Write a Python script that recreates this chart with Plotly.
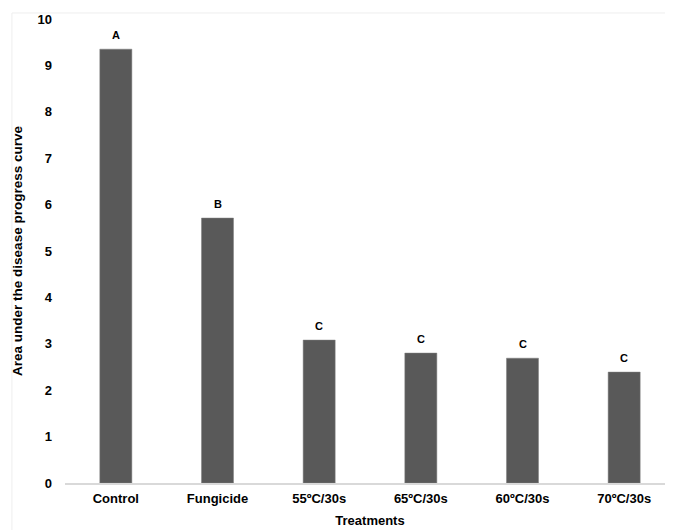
import plotly.graph_objects as go

categories = ["Control", "Fungicide", "55ºC/30s", "65ºC/30s", "60ºC/30s", "70ºC/30s"]
values = [9.35, 5.71, 3.08, 2.80, 2.69, 2.39]
letters = ["A", "B", "C", "C", "C", "C"]

FONT = "Liberation Sans"

fig = go.Figure(go.Bar(
    x=categories, y=values,
    marker=dict(color="#595959", line=dict(color="#7f7f7f", width=0.5)),
    width=0.315,
))

for c, v, l in zip(categories, values, letters):
    fig.add_annotation(x=c, y=v, text=f"<b>{l}</b>", showarrow=False,
                       yanchor="bottom", yshift=6,
                       font=dict(family=FONT, size=11, color="#000000"))

fig.update_layout(
    width=673, height=530,
    margin=dict(l=57, r=6, t=11, b=55, autoexpand=False),
    paper_bgcolor="white", plot_bgcolor="white",
    showlegend=False,
    font=dict(family=FONT, size=13, color="#000000"),
    xaxis=dict(
        automargin=False,
        showline=True, linecolor="#d9d9d9", linewidth=1.5, ticks="",
        tickfont=dict(family=FONT, size=13, weight="bold"),
        ticklabelstandoff=3,
        title=dict(text="<b>Treatments</b>", standoff=11,
                   font=dict(family=FONT, size=13)),
    ),
    yaxis=dict(
        automargin=False,
        range=[0, 10], dtick=1, showgrid=False, zeroline=False, showline=False,
        tickfont=dict(family=FONT, size=13, weight="bold"),
        ticklabelstandoff=12,
        title=dict(text="<b>Area under the disease progress curve</b>", standoff=11,
                   font=dict(family=FONT, size=13.5)),
    ),
    shapes=[dict(type="rect", xref="paper", yref="paper",
                 x0=-0.087, x1=1.02, y0=-0.2, y1=1.013,
                 line=dict(color="#eeeeee", width=1), layer="below")],
)

fig.write_html("out.html")
